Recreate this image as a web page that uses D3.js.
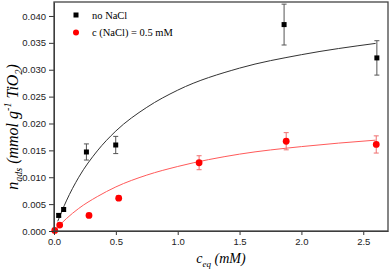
<!DOCTYPE html>
<html lang="en">
<head>
<meta charset="utf-8">
<title>n_ads vs c_eq</title>
<script src="https://d3js.org/d3.v7.min.js"></script>
<style>
  body { margin: 0; background: #fff; }
  svg { display: block; font-family: "Liberation Serif", "DejaVu Serif", serif; }
  .tick text { font-size: 9.5px; fill: #222; }
  .tick line, .domain { stroke: #333; }
</style>
</head>
<body>
<div id="chart"></div>
<script>
// data
var noNaclC   = [0.038, 0.078, 0.262, 0.499, 1.86, 2.61];
var noNaclN   = [0.0029, 0.0040, 0.0147, 0.0160, 0.0384, 0.0322];
var noNaclErr = [0.0003, 0.0003, 0.0015, 0.0016, 0.0038, 0.0032];

var naclC   = [0.006, 0.046, 0.283, 0.523, 1.173, 1.877, 2.605];
var naclN   = [0.0001, 0.0011, 0.0029, 0.0061, 0.0127, 0.0167, 0.0161];
var naclErr = [0, 0.0002, 0.0002, 0.0004, 0.0013, 0.0016, 0.0016];

// fitted curves, points
var fitBlackC = [0.03, 0.1, 0.2, 0.35, 0.5, 0.75, 1.0, 1.5, 2.0, 2.6];
var fitBlackN = [0.0018, 0.0056, 0.0100, 0.0149, 0.0186, 0.0230, 0.0262, 0.0303, 0.0328, 0.0349];
var fitRedC = [0.05, 0.1, 0.2, 0.35, 0.5, 0.75, 1.0, 1.5, 2.0, 2.6];
var fitRedN = [0.0012, 0.0023, 0.0042, 0.0064, 0.0082, 0.0104, 0.0120, 0.0143, 0.0157, 0.0169];

var xTicks = [0, 0.5, 1.0, 1.5, 2.0, 2.5];
var yTicks = [0, 0.005, 0.010, 0.015, 0.020, 0.025, 0.030, 0.035, 0.040];

var margin = {top: 2, right: 2, bottom: 40, left: 54},
    width = 390 - margin.left - margin.right,
    height = 271 - margin.top - margin.bottom;

var svg = d3.select("#chart")
  .append("svg")
    .attr("width", 390)
    .attr("height", 271);

var g = svg.append("g")
    .attr("transform", "translate(" + margin.left + "," + margin.top + ")");

var x = d3.scaleLinear().domain([0, 2.7]).range([0, width]);
var y = d3.scaleLinear().domain([0, 0.0426]).range([height, 0]);

var line = d3.line()
  .x(function(d) { return x(d[0]); })
  .y(function(d) { return y(d[1]); })
  .curve(d3.curveMonotoneX);

// fit lines
g.append("path")
  .datum(d3.zip(fitBlackC, fitBlackN))
  .attr("d", line)
  .attr("fill", "none")
  .attr("stroke", "#333")
  .attr("stroke-width", 1);

g.append("path")
  .datum(d3.zip(fitRedC, fitRedN))
  .attr("d", line)
  .attr("fill", "none")
  .attr("stroke", "#ff5a5a")
  .attr("stroke-width", 1);

function errorBars(cs, ns, es, color) {
  var data = d3.zip(cs, ns, es).filter(function(d) { return d[2] > 0; });
  var eb = g.append("g").attr("stroke", color).attr("stroke-width", 1);
  eb.selectAll("line.v").data(data).enter().append("line")
    .attr("x1", function(d) { return x(d[0]); })
    .attr("x2", function(d) { return x(d[0]); })
    .attr("y1", function(d) { return y(d[1] - d[2]); })
    .attr("y2", function(d) { return y(d[1] + d[2]); });
  [-1, 1].forEach(function(s) {
    eb.selectAll(null).data(data).enter().append("line")
      .attr("x1", function(d) { return x(d[0]) - 2.5; })
      .attr("x2", function(d) { return x(d[0]) + 2.5; })
      .attr("y1", function(d) { return y(d[1] + s * d[2]); })
      .attr("y2", function(d) { return y(d[1] + s * d[2]); });
  });
}

errorBars(noNaclC, noNaclN, noNaclErr, "#555");
errorBars(naclC, naclN, naclErr, "#f07070");

// markers
g.selectAll("rect.pt")
  .data(d3.zip(noNaclC, noNaclN))
  .enter()
  .append("rect")
    .attr("x", function(d) { return x(d[0]) - 2.5; })
    .attr("y", function(d) { return y(d[1]) - 2.5; })
    .attr("width", 5)
    .attr("height", 5)
    .attr("fill", "#000");

g.selectAll("circle.pt")
  .data(d3.zip(naclC, naclN))
  .enter()
  .append("circle")
    .attr("cx", function(d) { return x(d[0]); })
    .attr("cy", function(d) { return y(d[1]); })
    .attr("r", 3.4)
    .attr("fill", "#ff0000");

// axes
g.append("g")
  .attr("transform", "translate(0," + height + ")")
  .call(d3.axisBottom(x).tickValues(xTicks).tickFormat(d3.format(".1f")).tickSize(4).tickSizeOuter(0));

g.append("g")
  .call(d3.axisLeft(y).tickValues(yTicks).tickFormat(d3.format(".3f")).tickSize(5).tickSizeOuter(0));

// frame
g.append("rect")
  .attr("width", width)
  .attr("height", height)
  .attr("fill", "none")
  .attr("stroke", "#444")
  .attr("stroke-width", 1.3);

// legend
var legend = g.append("g").attr("transform", "translate(22,13)");
legend.append("rect").attr("x", -2.5).attr("y", -2.5).attr("width", 5).attr("height", 5).attr("fill", "#000");
legend.append("text").attr("x", 16).attr("y", 3.5).attr("font-size", 10.5).text("no NaCl");
legend.append("circle").attr("cx", 0).attr("cy", 17.5).attr("r", 3).attr("fill", "#ff0000");
legend.append("text").attr("x", 16).attr("y", 21).attr("font-size", 10.5).text("c (NaCl) = 0.5 mM");

// x label
var xl = svg.append("text")
  .attr("x", margin.left + width / 2)
  .attr("y", 263)
  .attr("text-anchor", "middle")
  .attr("font-size", 14)
  .attr("font-style", "italic");
xl.append("tspan").text("c");
xl.append("tspan").attr("font-size", 9).attr("dy", 4).text("eq");
xl.append("tspan").attr("dy", -4).text(" (mM)");

// y label
var yl = svg.append("text")
  .attr("transform", "translate(18,127) rotate(-90)")
  .attr("text-anchor", "middle")
  .attr("font-size", 16)
  .attr("font-style", "italic");
yl.append("tspan").text("n");
yl.append("tspan").attr("font-size", 10).attr("dy", 4).text("ads");
yl.append("tspan").attr("dy", -4).text(" (mmol g");
yl.append("tspan").attr("font-size", 10).attr("dy", -7).text("-1");
yl.append("tspan").attr("dy", 7).text(" TiO");
yl.append("tspan").attr("font-size", 10).attr("dy", 4).text("2");
yl.append("tspan").attr("dy", -4).text(")");
</script>
</body>
</html>
